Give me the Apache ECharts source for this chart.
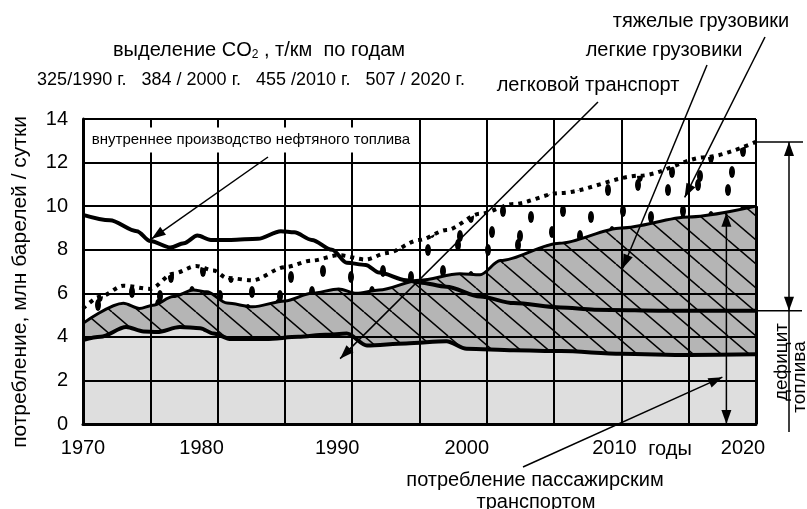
<!DOCTYPE html>
<html>
<head>
<meta charset="utf-8">
<script src="https://cdn.jsdelivr.net/npm/echarts@6/dist/echarts.min.js"></script>
<style>
  html, body { margin: 0; padding: 0; background: #fff; }
  #chart { width: 807px; height: 509px; }
</style>
</head>
<body>
<div id="chart"></div>
<script>
const FONT = "'Liberation Sans', Arial, sans-serif";
const NARROW = "'Liberation Sans Narrow', 'Liberation Sans', Arial, sans-serif";

// внутреннее производство нефтяного топлива
const prodYears = [1970, 1972, 1974, 1975, 1976.5, 1977.5, 1978.5, 1979.5, 1981, 1983, 1984.7, 1985.7, 1987, 1988.5, 1989.6, 1991, 1992, 1994, 1995, 1997, 1999.5, 2002, 2005.5, 2008, 2014, 2020];
const prodValues = [9.6, 9.35, 8.85, 8.4, 8.1, 8.3, 8.65, 8.45, 8.45, 8.5, 8.85, 8.8, 8.45, 8.0, 7.4, 7.3, 6.95, 6.6, 6.5, 6.3, 5.85, 5.55, 5.35, 5.25, 5.2, 5.2];

// легковой транспорт (верх светло-серой области)
const carYears = [1970, 1971.3, 1973.2, 1974.5, 1975.5, 1977.2, 1978.7, 1979.7, 1981, 1983.6, 1986, 1988, 1989.6, 1991.1, 1994, 1997, 1998.5, 2002, 2005.5, 2010, 2015, 2020];
const carValues = [3.85, 4.0, 4.45, 4.25, 4.22, 4.45, 4.4, 4.15, 3.9, 3.9, 4.0, 4.1, 4.15, 3.6, 3.7, 3.8, 3.45, 3.38, 3.35, 3.22, 3.17, 3.2];

// легкие грузовики (верх заштрихованной области)
const lightYears = [1970, 1973, 1974.2, 1975.2, 1976.7, 1978.2, 1979.2, 1980.7, 1982.6, 1985, 1987, 1989, 1990.3, 1992, 1995, 1998, 1999.5, 2001, 2005.4, 2010, 2015, 2020];
const lightValues = [4.62, 5.54, 5.3, 5.45, 5.85, 6.15, 6.07, 5.55, 5.38, 5.65, 6.0, 6.2, 6.0, 6.15, 6.6, 6.9, 6.85, 7.5, 8.3, 9.0, 9.5, 10.0];

// тяжелые грузовики (пунктир)
const heavyYears = [1970, 1971.3, 1973, 1975, 1976.7, 1978.4, 1979.7, 1980.7, 1982.6, 1985, 1987, 1989, 1991, 1992.6, 1995, 1997, 1999.5, 2002, 2005.4, 2011.4, 2016.3, 2020];
const heavyValues = [5.3, 5.85, 6.35, 6.2, 6.9, 7.25, 7.05, 6.7, 6.6, 7.2, 7.5, 7.75, 7.55, 7.85, 8.45, 8.9, 9.65, 10.1, 10.6, 11.4, 12.25, 12.95];

const co2Title = "выделение CO{sub|2} , т/км  по годам";
const co2Values = "325/1990 г.   384 / 2000 г.   455 /2010 г.   507 / 2020 г.";

// подписи оси X в оригинале стоят чуть левее линий сетки
const xLabelPad = { 1970: 0, 1980: 32, 1990: 30, 2000: 40, 2010: 14, 2020: 26 };

function pairs(xs, ys) {
  const out = [];
  for (let i = 0; i < xs.length; i++) out.push([xs[i], ys[i]]);
  return out;
}

// штриховка "\" для легких грузовиков
function hatchPattern() {
  const c = document.createElement("canvas");
  c.width = 28; c.height = 24;
  const g = c.getContext("2d");
  g.fillStyle = "#b5b5b5";
  g.fillRect(0, 0, 28, 24);
  g.strokeStyle = "#000";
  g.lineWidth = 1.5;
  for (let dx = -28; dx <= 28; dx += 28) {
    g.beginPath();
    g.moveTo(dx, 0);
    g.lineTo(dx + 28, 24);
    g.stroke();
  }
  return c;
}

// точки-эллипсы для тяжелых грузовиков
function dotsPattern() {
  const c = document.createElement("canvas");
  c.width = 60; c.height = 60;
  const g = c.getContext("2d");
  g.fillStyle = "#fff";
  g.fillRect(0, 0, 60, 60);
  g.fillStyle = "#000";
  const spots = [[8, 10], [38, 5], [23, 31], [51, 37], [12, 52], [40, 56]];
  spots.forEach(p => {
    for (let dy = -60; dy <= 60; dy += 60) {
      g.beginPath();
      g.ellipse(p[0], p[1] + dy, 3, 6, 0, 0, Math.PI * 2);
      g.fill();
    }
  });
  return c;
}

const chart = echarts.init(document.getElementById("chart"));

const xRich = {};
Object.keys(xLabelPad).forEach(k => { xRich["y" + k] = { padding: [0, xLabelPad[k], 0, 0] }; });

chart.setOption({
  animation: false,
  backgroundColor: "#fff",
  grid: { left: 83, right: 51, top: 119, bottom: 85 },
  xAxis: {
    type: "value",
    min: 1970,
    max: 2020,
    interval: 5,
    z: 5,
    axisLine: { lineStyle: { color: "#000", width: 3 } },
    axisTick: { show: false },
    axisLabel: {
      margin: 14,
      color: "#000",
      fontFamily: FONT,
      fontSize: 20,
      formatter: v => (v % 10 === 0 ? "{y" + v + "|" + v + "}" : ""),
      rich: xRich
    },
    splitLine: { lineStyle: { color: "#000", width: 2 } }
  },
  yAxis: {
    type: "value",
    min: 0,
    max: 14,
    interval: 2,
    z: 5,
    axisLine: { show: true, lineStyle: { color: "#000", width: 3 } },
    axisTick: { show: false },
    axisLabel: { margin: 15, color: "#000", fontFamily: FONT, fontSize: 20 },
    splitLine: { lineStyle: { color: "#000", width: 2 } }
  },
  series: [
    {
      name: "тяжелые грузовики",
      type: "line",
      data: pairs(heavyYears, heavyValues),
      smooth: 0.3,
      smoothMonotone: "x",
      showSymbol: false,
      lineStyle: { color: "#000", width: 4, type: [4, 5] },
      areaStyle: { color: { image: dotsPattern(), repeat: "repeat" }, opacity: 1, origin: "start" }
    },
    {
      name: "легкие грузовики",
      type: "line",
      data: pairs(lightYears, lightValues),
      smooth: 0.3,
      smoothMonotone: "x",
      showSymbol: false,
      lineStyle: { color: "#000", width: 3 },
      areaStyle: { color: { image: hatchPattern(), repeat: "repeat" }, opacity: 1, origin: "start" },
      markLine: {
        silent: true,
        symbol: "none",
        label: { show: false },
        lineStyle: { color: "#000", width: 3, type: "solid" },
        data: [[{ coord: [2020, 0] }, { coord: [2020, lightValues[lightValues.length - 1]] }]]
      }
    },
    {
      name: "легковой транспорт",
      type: "line",
      data: pairs(carYears, carValues),
      smooth: 0.3,
      smoothMonotone: "x",
      showSymbol: false,
      lineStyle: { color: "#000", width: 4 },
      areaStyle: { color: "#dedede", opacity: 1, origin: "start" }
    },
    {
      name: "внутреннее производство нефтяного топлива",
      type: "line",
      data: pairs(prodYears, prodValues),
      smooth: 0.3,
      smoothMonotone: "x",
      showSymbol: false,
      lineStyle: { color: "#000", width: 4 }
    }
  ]
});

function px(x, y) {
  return chart.convertToPixel({ gridIndex: 0 }, [x, y]);
}

function arrowHead(x1, y1, x2, y2) {
  const a = Math.atan2(y2 - y1, x2 - x1);
  const L = 14, W = 5;
  const bx = x2 - L * Math.cos(a), by = y2 - L * Math.sin(a);
  return {
    type: "polygon",
    z: 100,
    shape: { points: [[x2, y2], [bx - W * Math.sin(a), by + W * Math.cos(a)], [bx + W * Math.sin(a), by - W * Math.cos(a)]] },
    style: { fill: "#000" }
  };
}

function arrow(p1, p2, both) {
  const els = [
    { type: "line", z: 100, shape: { x1: p1[0], y1: p1[1], x2: p2[0], y2: p2[1] }, style: { stroke: "#000", lineWidth: 1.5 } },
    arrowHead(p1[0], p1[1], p2[0], p2[1])
  ];
  if (both) els.push(arrowHead(p2[0], p2[1], p1[0], p1[1]));
  return els;
}

function hline(x1, x2, y) {
  return { type: "line", z: 100, shape: { x1: x1, y1: y, x2: x2, y2: y }, style: { stroke: "#000", lineWidth: 1.5 } };
}

function label(text, x, y, size, font, extra) {
  return Object.assign({
    type: "text",
    z: 101,
    x: x,
    y: y,
    style: { text: text, font: size + "px " + font, fill: "#000", align: "center", verticalAlign: "middle" }
  }, extra || {});
}

const heavyEnd = px(2020, heavyValues[heavyValues.length - 1]);
const prodEnd = px(2020, prodValues[prodValues.length - 1]);
const lightEnd = px(2017.8, 9.7);
const zero = px(2017.8, 0);

const els = [];
// подписи вверху
els.push({
  type: "text", z: 101, x: 259, y: 50,
  style: {
    text: co2Title, font: "20px " + NARROW, fill: "#000", align: "center", verticalAlign: "middle",
    rich: { sub: { font: "12px " + NARROW, verticalAlign: "bottom", padding: [9, 0, 0, 0] } }
  }
});
els.push(label(co2Values, 251, 80, 18, NARROW));
els.push(label("тяжелые грузовики", 701, 21, 20, FONT));
els.push(label("легкие грузовики", 664, 50, 20, FONT));
els.push(label("легковой транспорт", 588, 85, 20, FONT));
els.push(label("годы", 670, 449, 20, FONT));
els.push(label("потребление пассажирским", 535, 480, 20, FONT));
els.push(label("транспортом", 536, 502, 20, FONT));
els.push(label("потребление, млн барелей / сутки", 20, 282, 21, FONT, { rotation: Math.PI / 2 }));
els.push({
  type: "text", z: 102, x: 251, y: 140,
  style: {
    text: "внутреннее производство нефтяного топлива", font: "15px " + FONT, fill: "#000",
    align: "center", verticalAlign: "middle", backgroundColor: "#fff", padding: [5, 6]
  }
});
els.push(label("дефицит", 782, 362, 19, FONT, { rotation: Math.PI / 2 }));
els.push(label("топлива", 800, 377, 19, FONT, { rotation: Math.PI / 2 }));

// стрелки
els.push(...arrow([268, 157], px(1975.1, 8.5)));
els.push(...arrow([598, 102], px(1989.1, 3.0)));
els.push(...arrow([707, 65], px(2010.1, 7.15)));
els.push(...arrow([765, 37], px(2014.7, 10.4)));
els.push(...arrow([523, 467], px(2017.5, 2.15)));
els.push(...arrow(lightEnd, zero, true));

// дефицит топлива
els.push(hline(heavyEnd[0], 803, heavyEnd[1]));
els.push(hline(prodEnd[0], 802, prodEnd[1]));
els.push(...arrow([789, heavyEnd[1]], [789, prodEnd[1]], true));
els.push({ type: "line", z: 100, shape: { x1: 789, y1: prodEnd[1], x2: 789, y2: 432 }, style: { stroke: "#000", lineWidth: 1.5 } });

chart.setOption({ graphic: { elements: els } });
</script>
</body>
</html>
